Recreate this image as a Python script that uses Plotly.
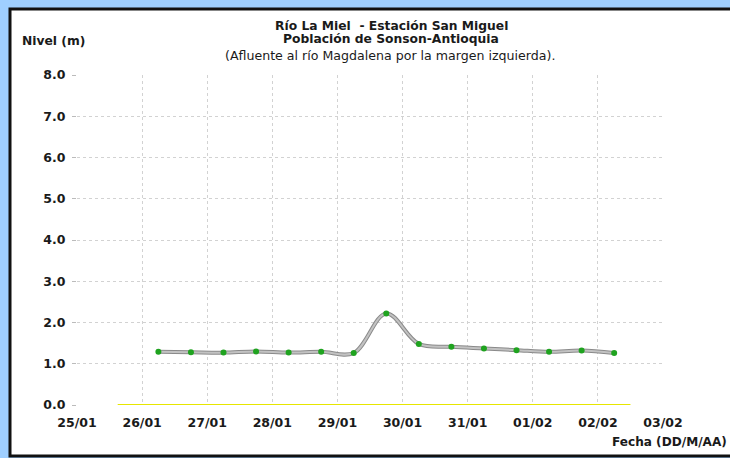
import plotly.graph_objects as go

# ---- data ----
fechas = [
    "2011-01-26 06:00", "2011-01-26 18:00", "2011-01-27 06:00", "2011-01-27 18:00",
    "2011-01-28 06:00", "2011-01-28 18:00", "2011-01-29 06:00", "2011-01-29 18:00",
    "2011-01-30 06:00", "2011-01-30 18:00", "2011-01-31 06:00", "2011-01-31 18:00",
    "2011-02-01 06:00", "2011-02-01 18:00", "2011-02-02 06:00",
]
nivel = [1.29, 1.28, 1.27, 1.30, 1.27, 1.29, 1.26, 2.22,
         1.48, 1.41, 1.37, 1.33, 1.29, 1.32, 1.26]

ref_x = ["2011-01-25 15:00", "2011-02-02 12:00"]
ref_y = [0.0, 0.0]

x_range = ["2011-01-25 00:00", "2011-02-03 00:00"]
y_range = [0, 8]

title_1 = "Río La Miel  - Estación San Miguel"
title_2 = "Población de Sonson-Antioquia"
title_3 = "(Afluente al río Magdalena por la margen izquierda)."
y_title = "Nivel (m)"
x_title = "Fecha (DD/M/AA)"

# ---- layout geometry ----
W, H = 730, 458
ML, MR, MT, MB = 77, 67, 75, 53
PW, PH = W - ML - MR, H - MT - MB


def px_x(p):
    return (p - ML) / PW


def px_y(p):
    return (H - MB - p) / PH


FONT = "DejaVu Sans, sans-serif"
TXT = "#1a1a1a"
FS = 12.5

fig = go.Figure()
fig.add_trace(go.Scatter(
    x=ref_x, y=ref_y, mode="lines",
    line=dict(color="#e6e600", width=2), hoverinfo="skip", showlegend=False,
))
fig.add_trace(go.Scatter(
    x=fechas, y=nivel, mode="lines",
    line=dict(color="#8a8a8a", width=4, shape="spline", smoothing=1.0),
    showlegend=False, hoverinfo="skip",
))
fig.add_trace(go.Scatter(
    x=fechas, y=nivel, mode="lines+markers",
    line=dict(color="#c2c2c2", width=2, shape="spline", smoothing=1.0),
    marker=dict(color="#1fa31f", size=6),
    showlegend=False,
))

axis_font = dict(family=FONT, size=FS, color=TXT)


def note(text, x, y, size, xanchor="center"):
    return dict(text=text, xref="paper", yref="paper",
                x=px_x(x), y=px_y(y), xanchor=xanchor, yanchor="middle",
                showarrow=False, borderpad=0,
                font=dict(family=FONT, size=size, color=TXT))


fig.update_layout(
    width=W, height=H,
    margin=dict(l=ML, r=MR, t=MT, b=MB),
    paper_bgcolor="#9fcfff",
    plot_bgcolor="#ffffff",
    showlegend=False,
    xaxis=dict(
        type="date", range=x_range, dtick=86400000, tickformat="%d/%m",
        showgrid=True, gridcolor="#d2d2d2", griddash="dot", gridwidth=1,
        zeroline=False, showline=False,
        ticks="", tickfont=axis_font, ticklabelstandoff=8,
        tickprefix="<b>", ticksuffix="</b>",
    ),
    yaxis=dict(
        range=y_range, dtick=1, tickformat=".1f",
        showgrid=True, gridcolor="#d2d2d2", griddash="dot", gridwidth=1,
        zeroline=False, showline=False,
        ticks="outside", ticklen=4, tickcolor="#bbbbbb",
        tickfont=axis_font, ticklabelstandoff=4,
        tickprefix="<b>", ticksuffix="</b>",
    ),
    shapes=[
        dict(type="rect", xref="paper", yref="paper",
             x0=px_x(10), x1=px_x(740), y0=px_y(456), y1=px_y(9),
             fillcolor="#ffffff", line=dict(color="#111111", width=3),
             layer="below"),
    ],
    annotations=[
        note("<b>" + title_1 + "</b>", 391, 25.5, 12.3),
        note("<b>" + title_2 + "</b>", 391, 39.5, 12.3),
        note(title_3, 390, 55.5, 12.6),
        note("<b>" + y_title + "</b>", 21, 40.5, 12.3, "left"),
        note("<b>" + x_title + "</b>", 728, 442, 12.1, "right"),
    ],
)

fig.write_html(
    "out.html",
    config={"displayModeBar": False},
    post_script="document.body.style.margin='0';document.body.style.padding='0';",
)
